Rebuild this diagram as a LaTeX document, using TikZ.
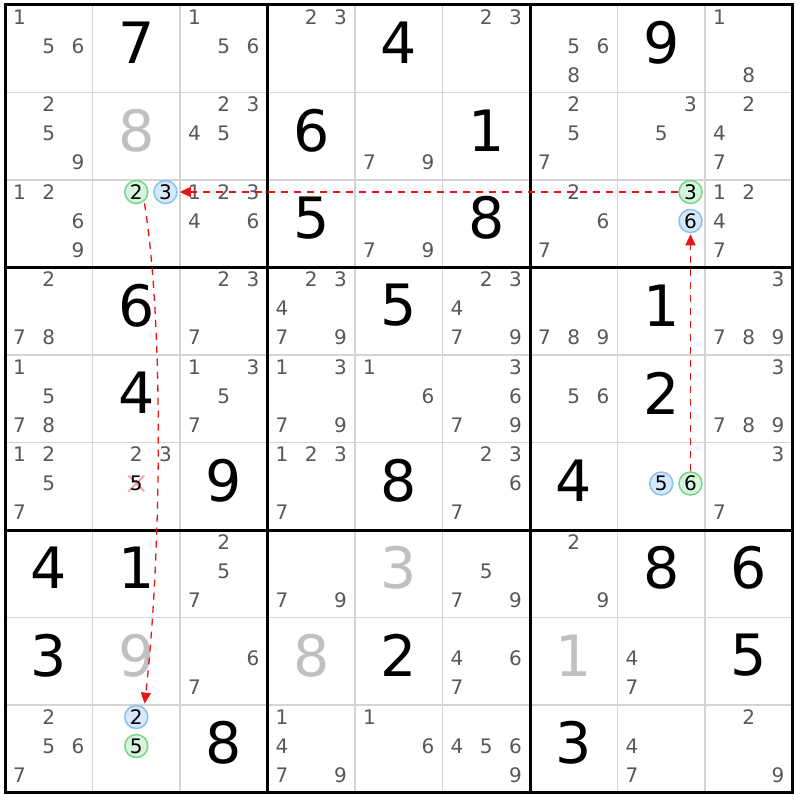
\documentclass[tikz,border=0pt]{standalone}
\usepackage{fontspec}
\setmainfont{DejaVu Sans}
\usetikzlibrary{arrows.meta,shapes.misc}
\definecolor{candgrey}{RGB}{88,88,92}
\definecolor{givengrey}{RGB}{192,192,192}
\definecolor{thingrid}{RGB}{212,212,212}
\definecolor{gstroke}{RGB}{120,212,135}
\definecolor{gfill}{RGB}{214,245,221}
\definecolor{bstroke}{RGB}{140,192,242}
\definecolor{bfill}{RGB}{214,232,250}
\definecolor{linkred}{RGB}{235,20,20}
\definecolor{strikepink}{RGB}{245,160,170}
\tikzset{
  cand/.style={inner sep=0pt,text=candgrey,font=\fontsize{20}{20}\selectfont},
  bigdig/.style={inner sep=0pt,text=black,font=\fontsize{57}{57}\selectfont},
  greydig/.style={bigdig,text=givengrey},
  gcirc/.style={circle,draw=gstroke,fill=gfill,line width=1.5pt,minimum size=23pt,inner sep=0pt,text=black,font=\fontsize{20}{20}\selectfont},
  bcirc/.style={gcirc,draw=bstroke,fill=bfill},
  link/.style={draw=linkred,line width=1.3pt,dash pattern=on 7pt off 6pt,-{Triangle[length=11pt,width=10pt]}},
  strikex/.style={cross out,draw=strikepink,line width=1.8pt,minimum size=14pt,inner sep=0pt}
}
\newcommand\cnd[3]{%
  \foreach \d in {#3}{%
    \pgfmathsetmacro\cx{5+(#2-1)*87.5+14.6+29.2*mod(\d-1,3)}%
    \pgfmathsetmacro\cy{5+(#1-1)*87.5+12+29*floor((\d-1)/3)}%
    \node[cand] (n#1#2\d) at (\cx,\cy) {\d};}}
\newcommand\bigd[3]{%
  \pgfmathsetmacro\cx{5+(#2-1)*87.5+43.75}%
  \pgfmathsetmacro\cy{5+(#1-1)*87.5+38}%
  \node[bigdig] (g#1#2) at (\cx,\cy) {#3};}
\newcommand\greyd[3]{%
  \pgfmathsetmacro\cx{5+(#2-1)*87.5+43.75}%
  \pgfmathsetmacro\cy{5+(#1-1)*87.5+38}%
  \node[greydig] (g#1#2) at (\cx,\cy) {#3};}
\newcommand\hl[5]{% row col digit style name
  \pgfmathsetmacro\cx{5+(#2-1)*87.5+14.6+29.2*mod(#3-1,3)}%
  \pgfmathsetmacro\cy{5+(#1-1)*87.5+12+29*floor((#3-1)/3)}%
  \node[#4] (#5) at (\cx,\cy) {#3};}
\begin{document}
\begin{tikzpicture}[x=1pt,y=-1pt]
\useasboundingbox (0,0) rectangle (800,800);
\fill[white] (0,0) rectangle (800,800);
% thin grid
\foreach \i in {1,2,4,5,7,8}{
  \draw[thingrid,line width=1.8pt] (5+\i*87.5,5) -- (5+\i*87.5,792.5);
  \draw[thingrid,line width=1.8pt] (5,5+\i*87.5) -- (792.5,5+\i*87.5);
}
\foreach \i in {3,6}{
  \draw[black,line width=3pt] (5+\i*87.5,5) -- (5+\i*87.5,792.5);
  \draw[black,line width=3pt] (5,5+\i*87.5) -- (792.5,5+\i*87.5);
}
\draw[black,line width=3pt] (5,5) rectangle (792.5,792.5);
% row 1
\cnd{1}{1}{1,5,6} \bigd{1}{2}{7} \cnd{1}{3}{1,5,6} \cnd{1}{4}{2,3} \bigd{1}{5}{4} \cnd{1}{6}{2,3} \cnd{1}{7}{5,6,8} \bigd{1}{8}{9} \cnd{1}{9}{1,8}
% row 2
\cnd{2}{1}{2,5,9} \greyd{2}{2}{8} \cnd{2}{3}{2,3,4,5} \bigd{2}{4}{6} \cnd{2}{5}{7,9} \bigd{2}{6}{1} \cnd{2}{7}{2,5,7} \cnd{2}{8}{3,5} \cnd{2}{9}{2,4,7}
% row 3
\cnd{3}{1}{1,2,6,9} \hl{3}{2}{2}{gcirc}{hA} \hl{3}{2}{3}{bcirc}{hB} \cnd{3}{3}{1,2,3,4,6} \bigd{3}{4}{5} \cnd{3}{5}{7,9} \bigd{3}{6}{8} \cnd{3}{7}{2,6,7} \hl{3}{8}{3}{gcirc}{hC} \hl{3}{8}{6}{bcirc}{hD} \cnd{3}{9}{1,2,4,7}
% row 4
\cnd{4}{1}{2,7,8} \bigd{4}{2}{6} \cnd{4}{3}{2,3,7} \cnd{4}{4}{2,3,4,7,9} \bigd{4}{5}{5} \cnd{4}{6}{2,3,4,7,9} \cnd{4}{7}{7,8,9} \bigd{4}{8}{1} \cnd{4}{9}{3,7,8,9}
% row 5
\cnd{5}{1}{1,5,7,8} \bigd{5}{2}{4} \cnd{5}{3}{1,3,5,7} \cnd{5}{4}{1,3,7,9} \cnd{5}{5}{1,6} \cnd{5}{6}{3,6,7,9} \cnd{5}{7}{5,6} \bigd{5}{8}{2} \cnd{5}{9}{3,7,8,9}
% row 6
\cnd{6}{1}{1,2,5,7} \cnd{6}{2}{2,3}
\pgfmathsetmacro\sx{5+87.5+43.8}\pgfmathsetmacro\sy{5+5*87.5+41}
\node[strikex] (xs) at (\sx,\sy) {};
\node[cand,text=black] (n625) at (\sx,\sy) {5};
\bigd{6}{3}{9} \cnd{6}{4}{1,2,3,7} \bigd{6}{5}{8} \cnd{6}{6}{2,3,6,7} \bigd{6}{7}{4} \hl{6}{8}{5}{bcirc}{hE} \hl{6}{8}{6}{gcirc}{hF} \cnd{6}{9}{3,7}
% row 7
\bigd{7}{1}{4} \bigd{7}{2}{1} \cnd{7}{3}{2,5,7} \cnd{7}{4}{7,9} \greyd{7}{5}{3} \cnd{7}{6}{5,7,9} \cnd{7}{7}{2,9} \bigd{7}{8}{8} \bigd{7}{9}{6}
% row 8
\bigd{8}{1}{3} \greyd{8}{2}{9} \cnd{8}{3}{6,7} \greyd{8}{4}{8} \bigd{8}{5}{2} \cnd{8}{6}{4,6,7} \greyd{8}{7}{1} \cnd{8}{8}{4,7} \bigd{8}{9}{5}
% row 9
\cnd{9}{1}{2,5,6,7} \hl{9}{2}{2}{bcirc}{hG} \hl{9}{2}{5}{gcirc}{hH} \bigd{9}{3}{8} \cnd{9}{4}{1,4,7,9} \cnd{9}{5}{1,6} \cnd{9}{6}{4,5,6,9} \bigd{9}{7}{3} \cnd{9}{8}{4,7} \cnd{9}{9}{2,9}
% links
\draw[link,shorten >=2pt] (hC.west) -- (hB.east);
\draw[link,shorten >=1pt] (hF.north) -- (hD.south);
\draw[link,shorten <=2pt,shorten >=4pt] (hA.-50) .. controls +(20,125) and +(17,-150) .. (hG.50);
\end{tikzpicture}
\end{document}
